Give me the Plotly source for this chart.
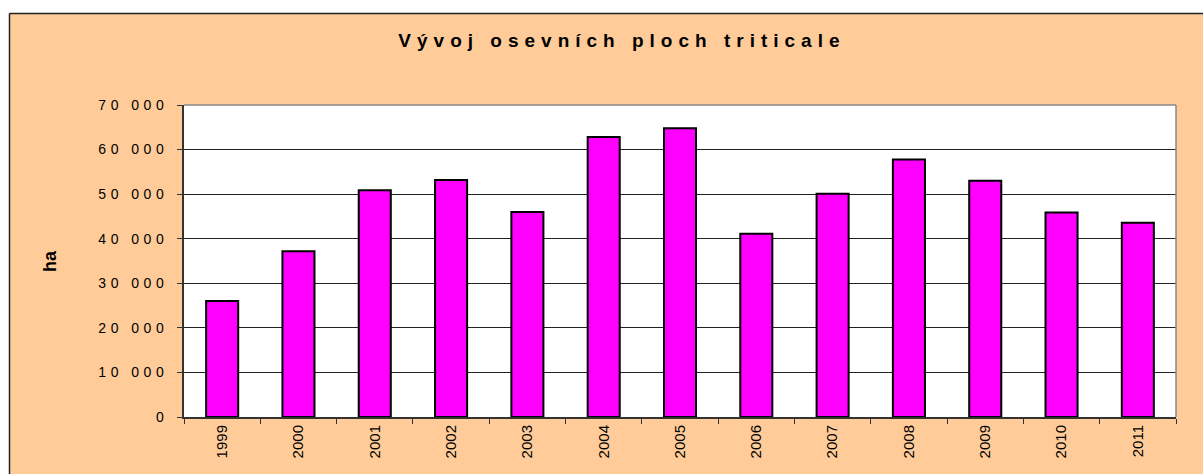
import plotly.graph_objects as go

years = ["1999", "2000", "2001", "2002", "2003", "2004", "2005",
         "2006", "2007", "2008", "2009", "2010", "2011"]
area_ha = [26000, 37200, 50900, 53200, 46000, 62800, 64800,
           41100, 50100, 57800, 53000, 45900, 43600]
y_tick_vals = [0, 10000, 20000, 30000, 40000, 50000, 60000, 70000]
y_tick_text = ["0", "10 000", "20 000", "30 000", "40 000", "50 000", "60 000", "70 000"]

title_text = "Vývoj osevních ploch triticale"
y_title = "ha"

W, H = 1203, 474
ML, MR, MT, MB = 184, 27, 105, 57
PW, PH = W - ML - MR, H - MT - MB


def px_x(px):
    return (px - ML) / PW


def px_y(py):
    return (H - MB - py) / PH


fig = go.Figure(go.Bar(
    x=years, y=area_ha,
    marker=dict(color="#FF00FF", line=dict(color="black", width=2)),
    hoverinfo="skip",
))

shapes = [
    dict(type="rect", xref="paper", yref="paper", x0=-0.5, x1=px_x(9), y0=-0.5, y1=1.6,
         fillcolor="white", line=dict(width=0), layer="below"),
    dict(type="rect", xref="paper", yref="paper", x0=-0.5, x1=1.5, y0=px_y(13), y1=1.6,
         fillcolor="white", line=dict(width=0), layer="below"),
    dict(type="line", xref="paper", yref="paper", x0=px_x(9.5), x1=px_x(9.5), y0=-0.5, y1=px_y(13.5),
         line=dict(color="#222222", width=1.5)),
    dict(type="line", xref="paper", yref="paper", x0=px_x(9.5), x1=1.5, y0=px_y(13.5), y1=px_y(13.5),
         line=dict(color="#222222", width=1.5)),
    dict(type="line", xref="paper", yref="paper", x0=0, x1=1, y0=1, y1=1,
         line=dict(color="#888888", width=1.5)),
    dict(type="line", xref="paper", yref="paper", x0=1, x1=1, y0=0, y1=1,
         line=dict(color="#888888", width=1.5)),
]

fig.update_layout(
    width=W, height=H,
    margin=dict(l=ML, r=MR, t=MT, b=MB, autoexpand=False),
    paper_bgcolor="#FFCC99",
    plot_bgcolor="white",
    bargap=0.58,
    showlegend=False,
    font=dict(family="Arial, Liberation Sans, sans-serif", color="black"),
    title=dict(text="<b>" + title_text + "</b>", x=0.517, xref="container", xanchor="center",
               y=1 - 40 / H, yref="container", yanchor="middle",
               font=dict(size=19, color="black")),
    shapes=shapes,
    annotations=[dict(text="<b>" + y_title + "</b>", xref="paper", yref="paper",
                      x=px_x(50), y=0.5, textangle=-90, showarrow=False,
                      font=dict(size=18, color="black"), xanchor="center", yanchor="middle")],
    xaxis=dict(
        type="category", tickangle=-90, tickfont=dict(size=15),
        ticks="outside", ticklen=5, tickcolor="#333333", tickson="boundaries",
        showline=True, linecolor="#333333", linewidth=2, showgrid=False,
        fixedrange=True,
    ),
    yaxis=dict(
        range=[0, 70000], tickvals=y_tick_vals, ticktext=y_tick_text,
        tickfont=dict(size=14), ticks="outside", ticklen=5, tickcolor="#333333",
        showline=True, linecolor="#333333", linewidth=2,
        showgrid=True, gridcolor="#222222", gridwidth=1, zeroline=False,
        ticklabelstandoff=6, fixedrange=True,
    ),
)

post = """
document.documentElement.style.margin='0';
document.body.style.margin='0';
document.body.style.overflow='hidden';
var gd = document.getElementById('{plot_id}');
function sp(){
  gd.querySelectorAll('.gtitle').forEach(function(e){ e.style.letterSpacing='6px'; });
  gd.querySelectorAll('.ytick text').forEach(function(e){ e.style.letterSpacing='4.5px'; });
}
sp();
gd.on('plotly_afterplot', sp);
"""

fig.write_html("out.html", post_script=post, config={"displayModeBar": False})
